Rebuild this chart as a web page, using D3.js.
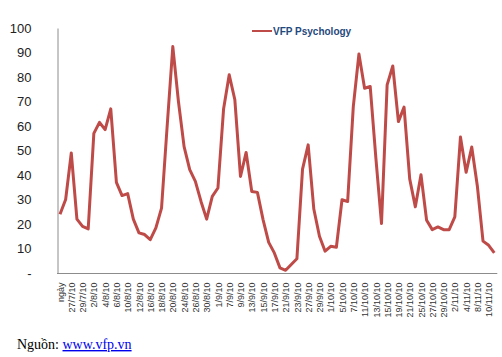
<!DOCTYPE html>
<html>
<head>
<meta charset="utf-8">
<script src="https://cdn.jsdelivr.net/npm/d3@7"></script>
<style>
  html, body { margin: 0; padding: 0; background: #fff; }
  svg { display: block; }
</style>
</head>
<body>
<svg id="chart" width="502" height="357"></svg>
<script>
const categories = ["ngày","26/7/10","27/7/10","28/7/10","29/7/10","30/7/10","2/8/10","3/8/10","4/8/10","5/8/10",
  "6/8/10","9/8/10","10/8/10","11/8/10","12/8/10","13/8/10","16/8/10","17/8/10","18/8/10","19/8/10",
  "20/8/10","23/8/10","24/8/10","25/8/10","26/8/10","27/8/10","30/8/10","31/8/10","1/9/10","6/9/10",
  "7/9/10","8/9/10","9/9/10","10/9/10","13/9/10","14/9/10","15/9/10","16/9/10","17/9/10","20/9/10",
  "21/9/10","22/9/10","23/9/10","24/9/10","27/9/10","28/9/10","29/9/10","30/9/10","1/10/10","4/10/10",
  "5/10/10","6/10/10","7/10/10","8/10/10","11/10/10","12/10/10","13/10/10","14/10/10","15/10/10","18/10/10",
  "19/10/10","20/10/10","21/10/10","22/10/10","25/10/10","26/10/10","27/10/10","28/10/10","29/10/10","1/11/10",
  "2/11/10","3/11/10","4/11/10","5/11/10","8/11/10","9/11/10","10/11/10","11/11/10"];

const psychology = [24,30,49,22,19,18,57,61.5,58.5,67,
  37,31.6,32.4,22,16.4,15.7,13.6,18.4,26.5,60,
  92.4,70,51.6,42.2,37.4,29.2,22,31.3,34.7,66.9,
  80.9,70.7,39.4,49.2,33.3,32.9,21.8,12.5,8.2,2.1,
  1.1,3.5,5.8,42.4,52.3,26.1,15,8.9,10.9,10.5,
  29.9,29.2,67.9,89.4,75.4,76.1,47,20.2,76.8,84.5,
  61.8,67.7,38.4,27,40.1,21.5,17.7,18.8,17.7,17.7,
  22.9,55.5,41.1,51.4,35.4,13,11.3,8.2];

const yTicks = [0,10,20,30,40,50,60,70,80,90,100];
const seriesName = "VFP Psychology";

const svg = d3.select("#chart");
const lineColor = "#BE4B48";

const x = d3.scalePoint().domain(categories).range([60, 494.3]);
const y = d3.scaleLinear().domain([0, 100]).range([273, 28]);

// y axis
const yAxis = d3.axisLeft(y).tickValues(yTicks).tickSize(0).tickPadding(26)
  .tickFormat(d => d === 0 ? "-" : d);
const gy = svg.append("g").attr("transform", "translate(57.5,0)").call(yAxis);
gy.select(".domain").attr("stroke", "#8c8c8c");
gy.selectAll("text").attr("font-family", "'Liberation Sans', Arial, sans-serif")
  .attr("font-size", 13).attr("fill", "#222");

// x axis
const xAxis = d3.axisBottom(x).tickValues(categories.filter((d, i) => i % 2 === 0))
  .tickSize(0).tickSizeOuter(0);
const gx = svg.append("g").attr("transform", "translate(0,273.5)").call(xAxis);
gx.select(".domain").remove();
gx.append("line").attr("x1", x.range()[0] - 3).attr("x2", x.range()[1] + 3)
  .attr("y1", 0).attr("y2", 0).attr("stroke", "#8c8c8c");
gx.selectAll("text")
  .attr("font-family", "'Liberation Sans', Arial, sans-serif")
  .attr("font-size", 9).attr("fill", "#333")
  .attr("transform", "rotate(-90)")
  .attr("x", -9).attr("y", 0).attr("dy", "0.35em")
  .attr("text-anchor", "end");

// line
const line = d3.line().x((d, i) => x(categories[i])).y(d => y(d));
svg.append("path").datum(psychology)
  .attr("d", line).attr("fill", "none")
  .attr("stroke", lineColor).attr("stroke-width", 3)
  .attr("stroke-linejoin", "round");

// legend
const lg = svg.append("g").attr("transform", "translate(252,31)");
lg.append("line").attr("x1", 0).attr("x2", 20).attr("y1", 0).attr("y2", 0)
  .attr("stroke", lineColor).attr("stroke-width", 2);
lg.append("text").attr("x", 21).attr("y", 0).attr("dy", "0.35em")
  .attr("font-family", "'Liberation Sans', Arial, sans-serif")
  .attr("font-size", 10).attr("font-weight", "bold").attr("fill", "#1F497D")
  .text(seriesName);

// source
const src = svg.append("text").attr("x", 17).attr("y", 349)
  .attr("font-family", "'Liberation Serif', 'Times New Roman', serif")
  .attr("font-size", 14).attr("fill", "#000");
src.append("tspan").text("Nguồn: ");
src.append("tspan").attr("fill", "#0000EE").attr("text-decoration", "underline").text("www.vfp.vn");
</script>
</body>
</html>
